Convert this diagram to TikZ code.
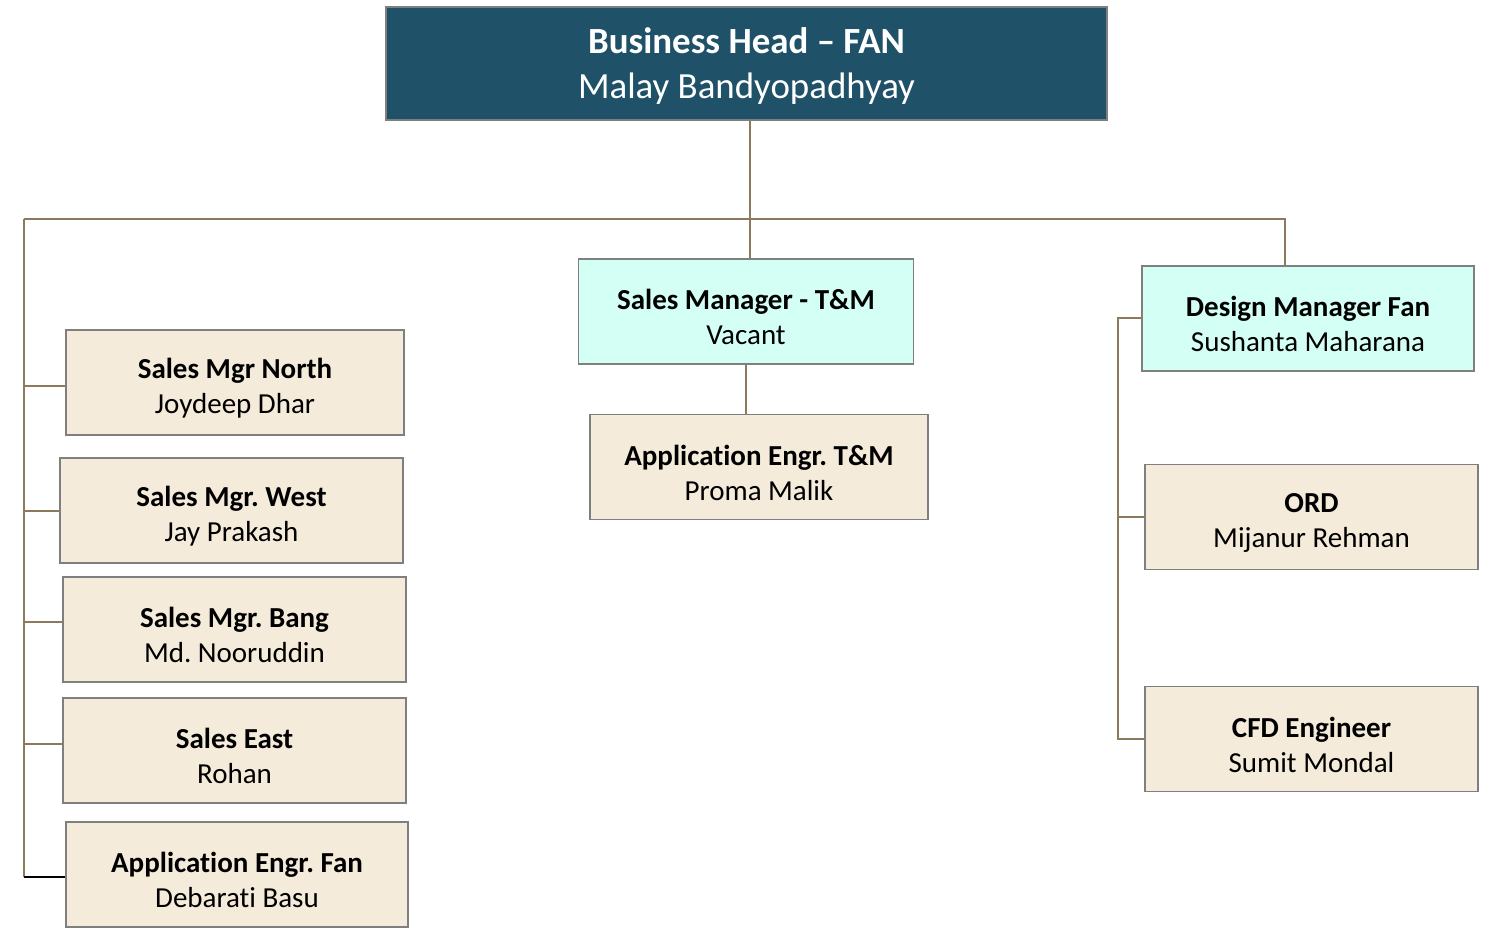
\documentclass[tikz,border=0pt]{standalone}
\usepackage{fontspec}
\setmainfont[Ligatures=NoCommon]{Carlito}
\definecolor{headblue}{HTML}{1F5168}
\definecolor{mgrcyan}{HTML}{D4FFF4}
\definecolor{stafftan}{HTML}{F4EBDA}
\definecolor{linkbrown}{HTML}{8B7A5C}
\definecolor{boxgray}{HTML}{7F7F7F}
\newcommand\boxtitle[1]{\rule{0pt}{18pt}\textbf{#1}}
\frenchspacing
\begin{document}
\begin{tikzpicture}[x=0.02cm,y=-0.02cm,
  box/.style={draw=boxgray,line width=1.1pt,align=center,inner sep=0pt,
    font=\fontsize{16.5}{20}\selectfont},
  headbox/.style={box,fill=headblue,text=white,minimum width=721*0.02cm,
    minimum height=113*0.02cm,font=\fontsize{21}{25.5}\selectfont},
  mgrbox/.style={box,fill=mgrcyan,minimum width=335*0.02cm,minimum height=105*0.02cm},
  staffbox/.style={box,fill=stafftan,minimum width=340*0.02cm,minimum height=105*0.02cm},
  link/.style={draw=linkbrown,line width=1.2pt}]
\useasboundingbox (0,0) rectangle (1486,930);
% head
\node[headbox] (head) at (746.5,63.5) {\boxtitle{Business Head -- FAN}\\Malay Bandyopadhyay};
% managers
\node[mgrbox] (tm)  at (746,311.5)  {\boxtitle{Sales Manager - T\&M}\\Vacant};
\node[mgrbox,minimum width=332*0.02cm] (dm) at (1308,318.5) {\boxtitle{Design Manager Fan}\\Sushanta Maharana};
% staff
\node[staffbox,minimum width=338*0.02cm] (apptm) at (759,467) {\boxtitle{Application Engr. T\&M}\\Proma Malik};
\node[staffbox,minimum width=333*0.02cm] (ord) at (1311.5,517) {\boxtitle{ORD}\\Mijanur Rehman};
\node[staffbox,minimum width=333*0.02cm] (cfd) at (1311.5,739) {\boxtitle{CFD Engineer}\\Sumit Mondal};
\node[staffbox,minimum width=338*0.02cm] (north) at (235,382.5) {\boxtitle{Sales Mgr North}\\Joydeep Dhar};
\node[staffbox,minimum width=343*0.02cm] (west) at (231.5,510.5) {\boxtitle{Sales Mgr. West}\\Jay Prakash};
\node[staffbox,minimum width=343*0.02cm] (bang) at (234.5,629.5) {\boxtitle{Sales Mgr. Bang}\\Md. Nooruddin};
\node[staffbox,minimum width=343*0.02cm] (east) at (234.5,750.5) {\boxtitle{Sales East}\\Rohan};
\node[staffbox,minimum width=342*0.02cm] (appfan) at (237,874.5) {\boxtitle{Application Engr. Fan}\\Debarati Basu};
% links
\coordinate (bus) at (750,219);
\coordinate (left) at (24,219);
\draw[link] (head.south -| bus) -- (bus);
\draw[link] (left) -- (1285,219) -- (1285,0 |- dm.north);
\draw[link] (bus) -- (bus |- tm.north);
\draw[link] (tm.south) -- (tm.south |- apptm.north);
\draw[link] (left) -- (24,877);
\foreach \n/\y in {north/386, west/511, bang/622, east/744}
  \draw[link] (24,\y) -- (\n.west |- 0,\y);
\draw[line width=1.2pt] (24,877) -- (appfan.west |- 0,877);
\draw[link] (dm.west |- 0,318) -- (1118,318) -- (1118,739) -- (cfd.west |- 0,739);
\draw[link] (1118,517) -- (ord.west);
\end{tikzpicture}
\end{document}
